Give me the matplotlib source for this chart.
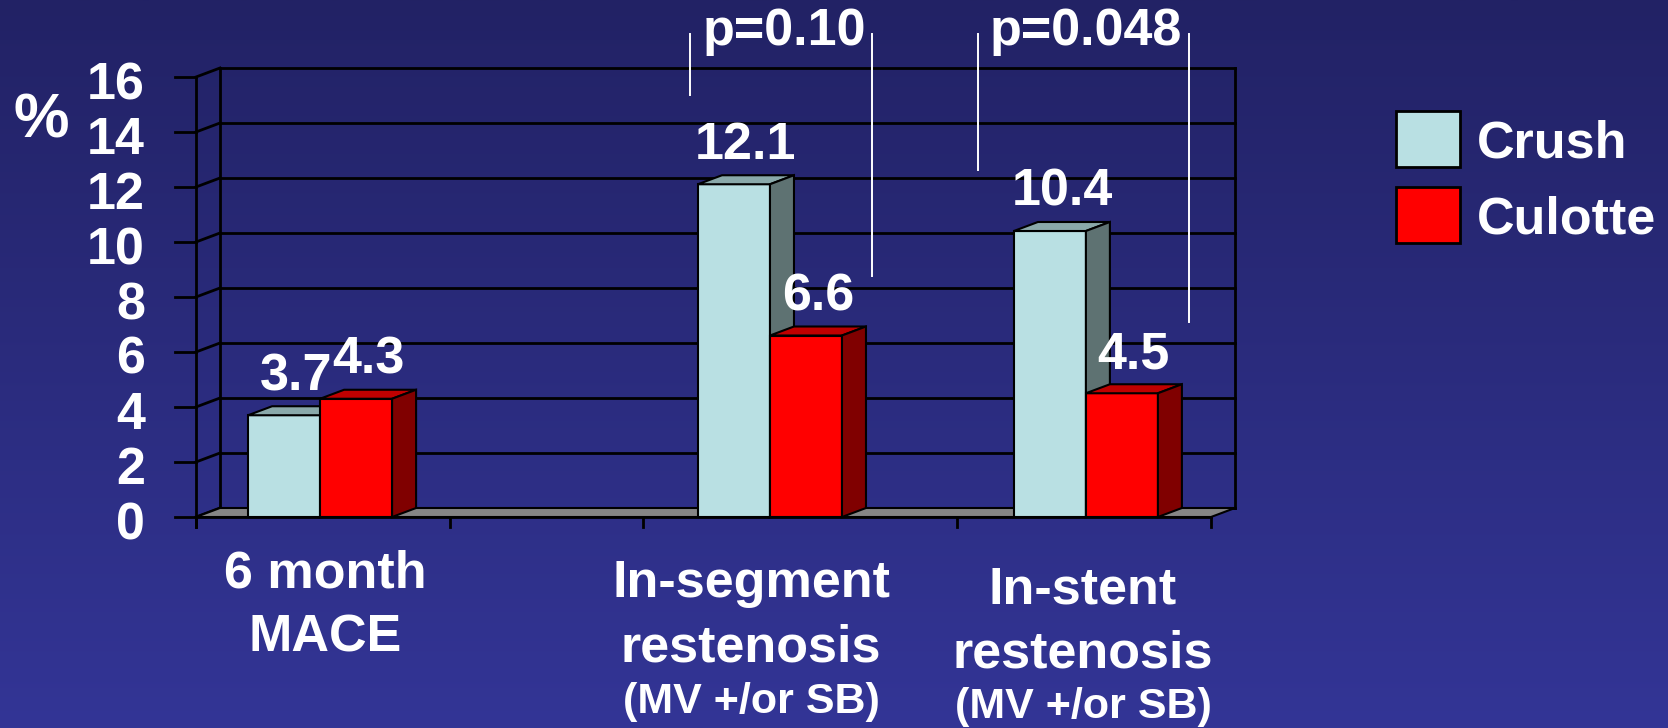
import numpy as np
import matplotlib
matplotlib.use("Agg")
import matplotlib.pyplot as plt
from matplotlib.patches import Polygon, Rectangle
from matplotlib.lines import Line2D
from matplotlib.colors import LinearSegmentedColormap

# ---------------- data ----------------
category_lines = [["6 month", "MACE"],
                  ["In-segment", "restenosis", "(MV +/or SB)"],
                  ["In-stent", "restenosis", "(MV +/or SB)"]]
series_names = ["Crush", "Culotte"]
crush = [3.7, 12.1, 10.4]
culotte = [4.3, 6.6, 4.5]
y_ticks = [0, 2, 4, 6, 8, 10, 12, 14, 16]
p_labels = ["p=0.10", "p=0.048"]

# ---------------- layout / style ----------------
W, H = 1668, 728
plt.rcParams["font.family"] = ["Liberation Sans", "DejaVu Sans"]
plt.rcParams["font.weight"] = "bold"
FS = 37.5
FS_SMALL = 31

crush_colors = ("#B9E0E3", "#8AA9AA", "#5E7272")   # front, top, side
culotte_colors = ("#FF0000", "#C00000", "#800000")

fig = plt.figure(figsize=(W / 100, H / 100), dpi=100)

# gradient background
bg = fig.add_axes([0, 0, 1, 1], zorder=-10)
cmap = LinearSegmentedColormap.from_list("bg", ["#222265", "#333596"])
bg.imshow(np.linspace(0, 1, 256).reshape(-1, 1), aspect="auto", cmap=cmap,
          extent=[0, 1, 0, 1], origin="upper")
bg.set_axis_off()

def fx(px):
    return px / W

def fy(py):
    return 1 - py / H

# front plane of the plot
X_LEFT, X_RIGHT, Y_ZERO, Y_TOP = 196, 1211, 517, 77
ax = fig.add_axes([fx(X_LEFT), fy(Y_ZERO), (X_RIGHT - X_LEFT) / W, (Y_ZERO - Y_TOP) / H])
ax.set_xlim(0, 4)
ax.set_ylim(0, 16)
ax.set_axis_off()
ax.patch.set_alpha(0)

PXX = (X_RIGHT - X_LEFT) / 4.0
PXY = (Y_ZERO - Y_TOP) / 16.0
DX = 24 / PXX
DY = 9 / PXY

LW = 2.0
k = dict(color="black", lw=LW, clip_on=False, solid_capstyle="projecting")

# back wall gridlines, left side wall diagonals and tick marks
for v in y_ticks:
    ax.plot([DX, 4 + DX], [v + DY, v + DY], zorder=1, **k)
    ax.plot([0, DX], [v, v + DY], zorder=1, **k)
    ax.plot([-21 / PXX, 0], [v, v], zorder=1, **k)
    ax.text(-51 / PXX, v - 22 / PXY, str(v), ha="right", va="baseline",
            fontsize=FS, color="white", fontweight="bold", clip_on=False)
ax.plot([DX, DX], [DY, 16 + DY], zorder=1, **k)
ax.plot([4 + DX, 4 + DX], [DY, 16 + DY], zorder=1, **k)
ax.plot([0, 0], [-10 / PXY, 16], zorder=3, **k)

# floor
floor = Polygon([(0, 0), (4, 0), (4 + DX, DY), (DX, DY)], closed=True,
                facecolor="#868686", edgecolor="black", lw=1.5, clip_on=False, zorder=2)
ax.add_patch(floor)
ax.plot([0, 4], [0, 0], zorder=2.5, **k)

# x ticks (category separators)
for t in [0, 1, 1.76, 3, 4]:
    ax.plot([t, t], [0, -10 / PXY], zorder=2.5, **k)

# bars
group_centers = [0.489, 2.262, 3.507]
BW = 72 / PXX

def bar3d(x0, h, colors, z):
    ax.bar([x0], [h], width=BW, align="edge", color=colors[0], edgecolor="black",
           linewidth=1.5, zorder=z, clip_on=False)
    top = Polygon([(x0, h), (x0 + BW, h), (x0 + BW + DX, h + DY), (x0 + DX, h + DY)],
                  closed=True, facecolor=colors[1], edgecolor="black", lw=1.5,
                  zorder=z, clip_on=False)
    side = Polygon([(x0 + BW, 0), (x0 + BW + DX, DY), (x0 + BW + DX, h + DY), (x0 + BW, h)],
                   closed=True, facecolor=colors[2], edgecolor="black", lw=1.5,
                   zorder=z, clip_on=False)
    ax.add_patch(top)
    ax.add_patch(side)
    ax.text(x0 + BW / 2 + 12 / PXX, h + 25 / PXY, f"{h}", ha="center", va="baseline",
            fontsize=FS, color="white", fontweight="bold", zorder=10, clip_on=False)

for i, c in enumerate(group_centers):
    bar3d(c - BW, crush[i], crush_colors, 4 + i * 2)
    bar3d(c, culotte[i], culotte_colors, 5 + i * 2)

# "%" axis label
fig.text(fx(41), fy(137), "%", ha="center", va="baseline", fontsize=45,
         color="white", fontweight="bold")

# category labels
label_x = [325, 751, 1083]
label_baselines = [[588, 652], [597, 661, 713], [604, 668, 718]]
for lines, x, bls in zip(category_lines, label_x, label_baselines):
    for j, (txt, b) in enumerate(zip(lines, bls)):
        size = FS_SMALL if txt.startswith("(") else FS
        fig.text(fx(x), fy(b), txt, ha="center", va="baseline", fontsize=size,
                 color="white", fontweight="bold")

# p-value brackets
p_x = [784, 1086]
for txt, x in zip(p_labels, p_x):
    fig.text(fx(x), fy(45), txt, ha="center", va="baseline", fontsize=FS,
             color="white", fontweight="bold")
bracket_lines = [(690, 95), (872, 276), (978, 170), (1189, 322)]
for x, yb in bracket_lines:
    fig.add_artist(Line2D([fx(x), fx(x)], [fy(34), fy(yb)], color="white", lw=1.4,
                          transform=fig.transFigure))

# legend
for name, col, top, base in zip(series_names, [crush_colors[0], culotte_colors[0]],
                                [111, 187], [158, 233]):
    fig.add_artist(Rectangle((fx(1396), fy(top + 56)), 64 / W, 56 / H, facecolor=col,
                             edgecolor="black", lw=2, transform=fig.transFigure))
    fig.text(fx(1477), fy(base), name, ha="left", va="baseline", fontsize=FS,
             color="white", fontweight="bold")

fig.savefig("out.png", dpi=100)
